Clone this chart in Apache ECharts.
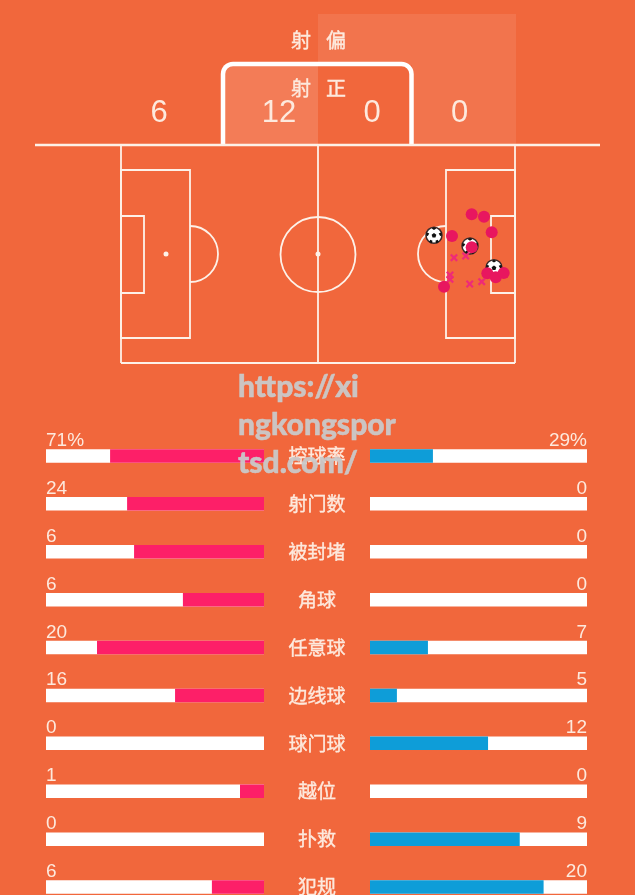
<!DOCTYPE html>
<html><head><meta charset="utf-8">
<style>html,body{margin:0;padding:0;background:#f1673c}#c{width:635px;height:895px}</style>
<script src="https://cdn.jsdelivr.net/npm/echarts@6/dist/echarts.min.js"></script>
</head><body><div id="c"></div>
<script>
const categories=['控球率','射门数','被封堵','角球','任意球','边线球','球门球','越位','扑救','犯规'];
const homeLabels=['71%','24','6','6','20','16','0','1','0','6'];
const awayLabels=['29%','0','0','0','7','5','12','0','9','20'];
const homeFill=[70.6,62.8,59.6,37.2,76.6,40.8,0,11,0,23.9];
const awayFill=[29,0,0,0,26.7,12.4,54.4,0,69,80];
const track=[100,100,100,100,100,100,100,100,100,100];
const shotCircles=[[93.46,46.38],[96.74,45.64],[98.79,40.77],[88.21,39.62],[93.46,36.09],[97.62,27.98],[99.86,26.73],[101.99,28.07],[86.08,23.8]];
const shotCrosses=[[88.74,32.85],[91.86,33.38],[87.68,27.45],[87.68,26.11],[92.93,24.64],[96.13,25.36]];
const goalBalls=[[83.41,39.83],[93.01,36.5],[99.4,29.73]];
const zoneCounts=['6','12','0','0'];
const zoneTitles=['射','偏','射','正'];

const BG='#f1673c',W='#ffffff',PINK='#fd1f68',BLUE='#0e9dd8',TXT='#fde9dd',LINE='#fdf1e8';
const CJK='"Noto Sans CJK SC"',LAT='"Liberation Sans"';
const LW=1.8;
const ln=(x1,y1,x2,y2,w)=>({type:'line',shape:{x1,y1,x2,y2},style:{stroke:LINE,lineWidth:w||LW,fill:null}});
const rc=(x,y,width,height)=>({type:'rect',shape:{x,y,width,height},style:{stroke:LINE,lineWidth:LW,fill:null}});
const txt=(x,y,text,size,font,extra)=>({type:'text',x,y,z:5,style:Object.assign({text,fill:TXT,font:size+'px '+font,textAlign:'center',textVerticalAlign:'middle'},extra||{})});
const thick={stroke:TXT,lineWidth:0.4};

const graphic=[
 {type:'polygon',shape:{points:[[318,14],[516,14],[516,145],[412,145],[412,65],[318,65]]},style:{fill:'rgba(255,255,255,0.09)'}},
 {type:'rect',shape:{x:223,y:65,width:95,height:80},style:{fill:'rgba(255,255,255,0.14)'}},
 {type:'rect',shape:{x:223,y:64,width:188.5,height:90,r:[10,10,0,0]},style:{fill:null,stroke:W,lineWidth:4.5}},
 {type:'rect',shape:{x:200,y:146,width:240,height:12},style:{fill:BG}},
 ln(35,145,600,145,2.5),
 ln(121,145,121,363),ln(515,145,515,363),ln(121,363,515,363),ln(318,145,318,363),
 rc(121,170,69,168),rc(121,216,23,77),rc(446,170,69,168),rc(491,216,24,77),
 {type:'circle',shape:{cx:318,cy:254.5,r:37.5},style:{fill:null,stroke:LINE,lineWidth:LW}},
 {type:'arc',shape:{cx:190,cy:254,r:28,startAngle:-Math.PI/2,endAngle:Math.PI/2},style:{fill:null,stroke:LINE,lineWidth:LW}},
 {type:'arc',shape:{cx:446,cy:254,r:28,startAngle:Math.PI/2,endAngle:-Math.PI/2},style:{fill:null,stroke:LINE,lineWidth:LW}},
 {type:'circle',shape:{cx:166,cy:254,r:2.5},style:{fill:LINE}},
 {type:'circle',shape:{cx:318,cy:254,r:2.5},style:{fill:LINE}},
 txt(301,40,zoneTitles[0],20,CJK,thick),txt(336,40,zoneTitles[1],20,CJK,thick),
 txt(301,88,zoneTitles[2],20,CJK,thick),txt(336,88,zoneTitles[3],20,CJK,thick),
 txt(159,113,zoneCounts[0],31,LAT),txt(279,113,zoneCounts[1],31,LAT),
 txt(372,113,zoneCounts[2],31,LAT),txt(459.5,113,zoneCounts[3],31,LAT),
 {type:'text',x:238,y:368,z:100,zlevel:1,style:{text:'https://xi\nngkongspor\ntsd.com/',fill:'#c9c9c9',stroke:'#c9c9c9',lineWidth:0.5,font:'900 30px Lato',lineHeight:38,textAlign:'left',textVerticalAlign:'top',opacity:0.95}}
];

const barLabel=(arr,pos,dx)=>({show:true,position:pos,offset:[dx,-23],color:TXT,fontFamily:LAT,fontSize:19,formatter:p=>arr[p.dataIndex]});
const BALL='path://M50 36L63 46L58 61L42 61L37 46ZM50 4L63 11L50 19L37 11ZM91 32L94 50L84 52L76 38ZM9 32L24 38L16 52L6 50ZM23 86L30 73L42 79L38 93ZM77 86L62 93L58 79L70 73Z';

const option={
 backgroundColor:BG,animation:false,
 grid:[
  {left:46,top:432,width:218,height:479,outerBoundsMode:'none'},
  {left:370,top:432,width:217,height:479,outerBoundsMode:'none'},
  {left:121,top:145,width:394,height:218,outerBoundsMode:'none'}
 ],
 xAxis:[
  {gridIndex:0,type:'value',min:0,max:100,inverse:true,show:false},
  {gridIndex:1,type:'value',min:0,max:100,show:false},
  {gridIndex:2,type:'value',min:0,max:105,show:false}
 ],
 yAxis:[
  {gridIndex:0,type:'category',data:categories,inverse:true,position:'right',axisLine:{show:false},axisTick:{show:false},splitLine:{show:false},
   axisLabel:{margin:53,align:'center',color:TXT,fontFamily:CJK,fontSize:19,textBorderColor:TXT,textBorderWidth:0.4}},
  {gridIndex:1,type:'category',data:categories,inverse:true,axisLine:{show:false},axisTick:{show:false},splitLine:{show:false},axisLabel:{show:false}},
  {gridIndex:2,type:'value',min:0,max:68,show:false}
 ],
 graphic,
 series:[
  {type:'bar',xAxisIndex:0,yAxisIndex:0,data:track,barWidth:13.5,barGap:'-100%',itemStyle:{color:W},label:barLabel(homeLabels,'insideTopLeft',-5),z:2},
  {type:'bar',xAxisIndex:0,yAxisIndex:0,data:homeFill,barWidth:13.5,barGap:'-100%',itemStyle:{color:PINK},z:3},
  {type:'bar',xAxisIndex:1,yAxisIndex:1,data:track,barWidth:13.5,barGap:'-100%',itemStyle:{color:W},label:barLabel(awayLabels,'insideTopRight',5),z:2},
  {type:'bar',xAxisIndex:1,yAxisIndex:1,data:awayFill,barWidth:13.5,barGap:'-100%',itemStyle:{color:BLUE},z:3},
  {type:'scatter',xAxisIndex:2,yAxisIndex:2,data:goalBalls,symbol:'circle',symbolSize:16,itemStyle:{color:W,borderColor:'#3a2a2a',borderWidth:1.5,opacity:1},z:4},
  {type:'scatter',xAxisIndex:2,yAxisIndex:2,data:goalBalls,symbol:BALL,symbolSize:16,itemStyle:{color:'#111',opacity:1},z:5},
  {type:'scatter',xAxisIndex:2,yAxisIndex:2,data:shotCrosses,symbol:'path://M4 0L10 6L16 0L20 4L14 10L20 16L16 20L10 14L4 20L0 16L6 10L0 4Z',symbolSize:8,itemStyle:{color:'#ef2a78',opacity:1},z:6},
  {type:'scatter',xAxisIndex:2,yAxisIndex:2,data:shotCircles,symbol:'circle',symbolSize:12,itemStyle:{color:'#e8165f',opacity:1},z:7}
 ]
};
const chart=echarts.init(document.getElementById('c'),null,{renderer:'canvas',width:635,height:895});
chart.setOption(option);
</script></body></html>
